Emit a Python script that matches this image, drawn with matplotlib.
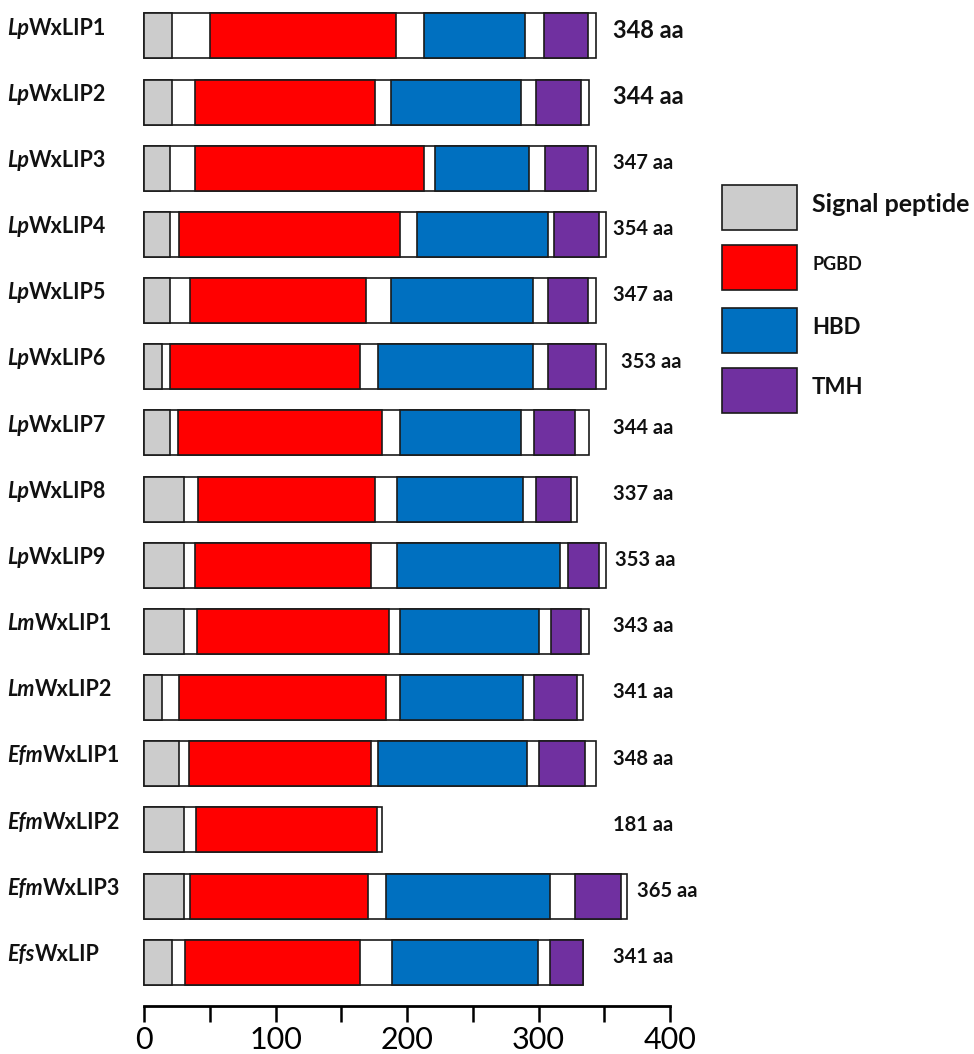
import matplotlib
matplotlib.use('Agg')
import matplotlib.pyplot as plt
from matplotlib.patches import Rectangle

# protein names (species prefix in italics) and lengths
species = ['Lp', 'Lp', 'Lp', 'Lp', 'Lp', 'Lp', 'Lp', 'Lp', 'Lp',
           'Lm', 'Lm', 'Efm', 'Efm', 'Efm', 'Efs']
proteins = ['WxLIP1', 'WxLIP2', 'WxLIP3', 'WxLIP4', 'WxLIP5', 'WxLIP6', 'WxLIP7',
            'WxLIP8', 'WxLIP9', 'WxLIP1', 'WxLIP2', 'WxLIP1', 'WxLIP2', 'WxLIP3', 'WxLIP']
lengths = [348, 344, 347, 354, 347, 353, 344, 337, 353, 343, 341, 348, 181, 365, 341]

# domain boundaries as drawn (aa)
bar_end = [343.5, 338.7, 343.5, 351.3, 343.5, 351.3, 338.6, 329.4, 351.3,
           338.6, 334, 343.5, 181.2, 367, 333.6]
signal_end = [21.5, 21, 20, 20, 20, 13.4, 20, 30.7, 30.7, 30.4, 13.4, 26.8, 30.7, 30.4, 21]
pgbd = [(50, 192), (39, 176), (39, 213), (26.6, 195), (35, 169), (20, 164), (26, 181),
        (41, 176), (39, 173), (40, 186), (26.6, 184), (34.4, 173), (39.3, 177.4),
        (35, 170), (31, 164.5)]
hbd = [(213, 290), (188, 286.5), (221, 293), (207.4, 307.5), (188, 296), (178, 296),
       (195, 286.5), (192.6, 288.4), (192.6, 316.3), (195, 300.6), (195, 288),
       (178, 291), None, (184, 309), (188.5, 300)]
tmh = [(304, 338), (298, 332), (305, 338), (312, 346), (307.4, 338), (307.4, 344),
       (296.6, 328), (298, 325), (322.7, 346), (309.5, 332), (296.6, 329),
       (300.6, 335.4), None, (328, 363), (309, 333.6)]

legend_labels = ['Signal peptide', 'PGBD', 'HBD', 'TMH']
colors = ['#CCCCCC', '#FF0000', '#0070C0', '#7030A0']

# where the length labels sit (aa) and their sizes
label_x = [357, 357, 357, 357, 357, 362.5, 357, 357, 358, 357, 357, 357, 357, 375, 357]
label_size = [17, 17] + [14.5] * 13

font = 'Lato'
edge = '#1a1a1a'

fig = plt.figure(figsize=(9.74, 10.54), dpi=100)
ax = fig.add_axes([144 / 974, 48 / 1054, 526 / 974, 1006 / 1054])

h = 0.68
for i in range(len(lengths)):
    ax.barh(i, bar_end[i], left=0, height=h, color='white', edgecolor=edge, linewidth=1.2, clip_on=False)
    ax.barh(i, signal_end[i], left=0, height=h, color=colors[0], edgecolor=edge, linewidth=1.2, clip_on=False)
    for dom, c in ((pgbd[i], colors[1]), (hbd[i], colors[2]), (tmh[i], colors[3])):
        if dom is None:
            continue
        ax.barh(i, dom[1] - dom[0], left=dom[0], height=h, color=c, edgecolor=edge,
                linewidth=1.2, clip_on=False)

    # length label
    ax.text(label_x[i], i - 0.08, f'{lengths[i]} aa', fontsize=label_size[i], fontweight='bold',
            family=font, ha='left', va='center', color='#111111')

    # protein name: italic species prefix + upright rest
    t1 = ax.text(-137 / 1.315, i - 0.12, species[i], fontsize=15.5, fontweight='bold',
                 fontstyle='italic', family=font, ha='left', va='center', color='#111111')
    ax.annotate(proteins[i], xy=(1, 0), xycoords=t1, ha='left', va='bottom',
                fontsize=15.5, fontweight='bold', family=font, color='#111111')

ax.set_xlim(0, 400)
ax.set_ylim(14.66, -0.544)
for s in ['left', 'top', 'right']:
    ax.spines[s].set_visible(False)
ax.spines['bottom'].set_linewidth(2)
ax.spines['bottom'].set_bounds(0, 400)
ax.set_yticks([])
ax.set_xticks([0, 100, 200, 300, 400])
ax.set_xticks([50, 150, 250, 350], minor=True)
ax.tick_params(axis='x', which='both', length=11.5, width=1.8, direction='out')
ax.tick_params(axis='x', which='major', labelsize=22, pad=3)
for lab in ax.get_xticklabels():
    lab.set_family(font)

# legend
leg_tops = [185, 245, 308, 368]
leg_sizes = [18, 13, 16, 16]
for top, lab, c, fs in zip(leg_tops, legend_labels, colors, leg_sizes):
    y0 = 1 - (top + 45) / 1054
    fig.add_artist(Rectangle((722 / 974, y0), 75 / 974, 45 / 1054, transform=fig.transFigure,
                             facecolor=c, edgecolor=edge, linewidth=1.2))
    fig.text(812 / 974, 1 - (top + 19) / 1054, lab, fontsize=fs, fontweight='bold',
             family=font, ha='left', va='center', color='#111111')

fig.savefig('out.png', dpi=100)
